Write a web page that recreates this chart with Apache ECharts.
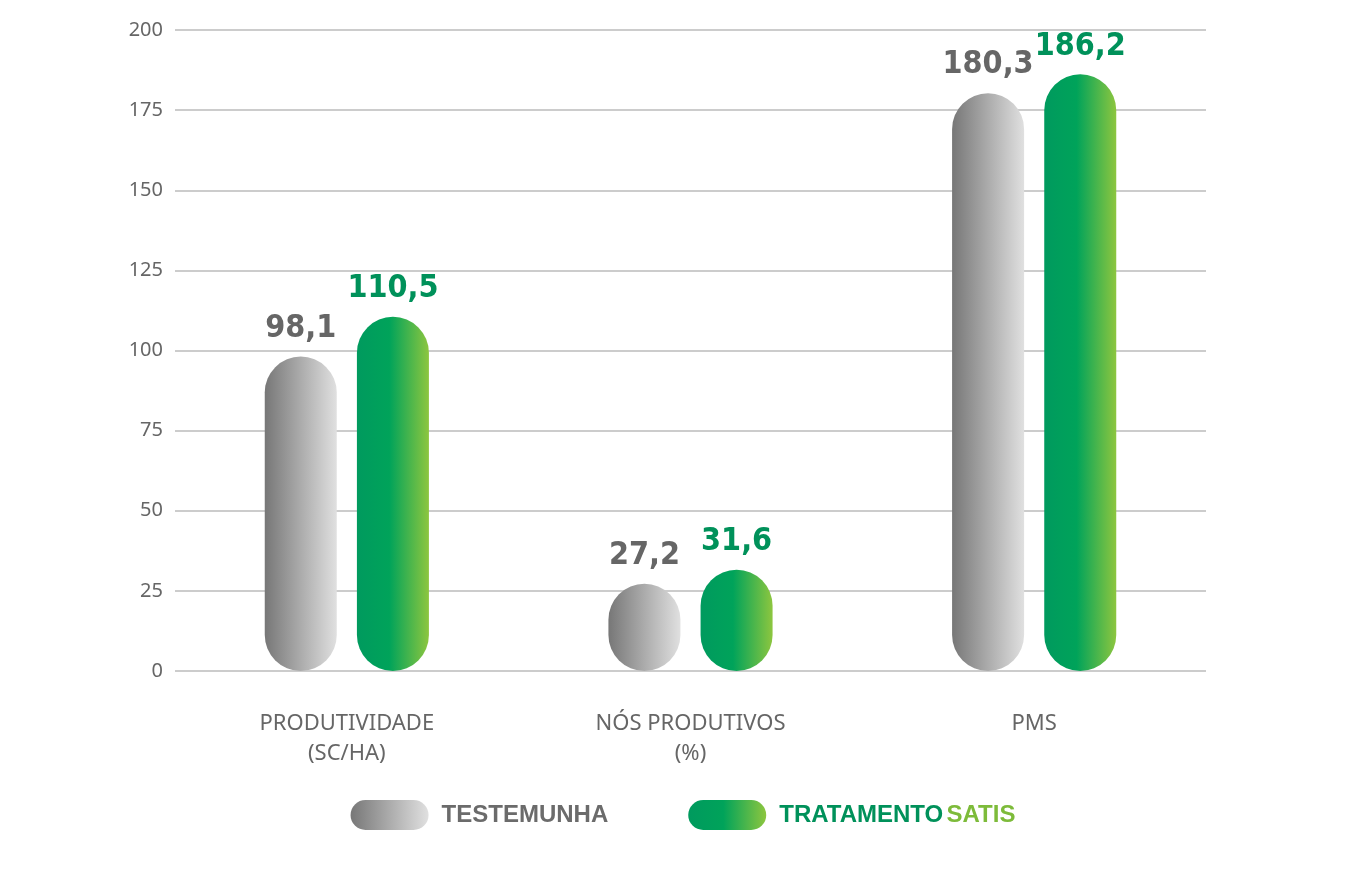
<!DOCTYPE html>
<html><head><meta charset="utf-8">
<script src="https://cdn.jsdelivr.net/npm/echarts@6/dist/echarts.min.js"></script>
<style>html,body{margin:0;background:#fff}#c{width:1366px;height:871px}</style>
</head><body><div id="c"></div>
<script>
const categories = ['PRODUTIVIDADE\n(SC/HA)', 'NÓS PRODUTIVOS\n(%)', 'PMS'];
const testemunha = [98.1, 27.2, 180.3];
const tratamento = [110.5, 31.6, 186.2];
const seriesNames = ['TESTEMUNHA', 'TRATAMENTO SATIS'];

const grayGrad = new echarts.graphic.LinearGradient(0,0,1,0,[{offset:0,color:'#777777'},{offset:1,color:'#e0e0e0'}]);
const greenGrad = new echarts.graphic.LinearGradient(0,0,1,0,[{offset:0,color:'#009a5e'},{offset:0.45,color:'#00a35a'},{offset:1,color:'#8dc63f'}]);
const fmt = p => p.value.toFixed(1).replace('.', ',');
const labelFont = {fontFamily:'"Liberation Sans Narrow", "DejaVu Sans Condensed", sans-serif', fontWeight:'bold', fontSize:32, distance:12};
const capsule = 'path://M15,0 H63 A15,15 0 0 1 63,30 H15 A15,15 0 0 1 15,0 Z';

const chart = echarts.init(document.getElementById('c'));
chart.setOption({
  animation:false,
  grid:{left:175, right:160, top:30, bottom:200},
  xAxis:{type:'category', data:categories, axisLine:{show:false}, axisTick:{show:false},
    axisLabel:{color:'#666', fontSize:22, lineHeight:30, margin:38, fontFamily:'Noto Sans, sans-serif'}},
  yAxis:{type:'value', min:0, max:200, interval:25,
    axisLabel:{color:'#666', fontSize:20, margin:12, fontFamily:'Noto Sans, sans-serif'},
    splitLine:{lineStyle:{color:'#cccccc', width:2}}},
  legend:{bottom:36, left:'center', itemWidth:78, itemHeight:30, itemGap:80,
    icon:capsule,
    formatter: n => n === 'TESTEMUNHA' ? '{g|TESTEMUNHA}' : '{a|TRATAMENTO} {b|SATIS}',
    textStyle:{padding:[0,0,0,8], rich:{g:{color:'#6b6b6b',fontSize:24,fontWeight:'bold'},a:{color:'#00915a',fontSize:24,fontWeight:'bold'},b:{color:'#7dbb3a',fontSize:24,fontWeight:'bold'}}}},
  series:[
    {name:seriesNames[0], type:'bar', data:testemunha, barWidth:72, barGap:'28%',
      itemStyle:{color:grayGrad, borderRadius:36},
      label:Object.assign({show:true, position:'top', color:'#666', formatter:fmt}, labelFont)},
    {name:seriesNames[1], type:'bar', data:tratamento, barWidth:72,
      itemStyle:{color:greenGrad, borderRadius:36},
      label:Object.assign({show:true, position:'top', color:'#00915a', formatter:fmt}, labelFont)}
  ]
});
</script></body></html>
